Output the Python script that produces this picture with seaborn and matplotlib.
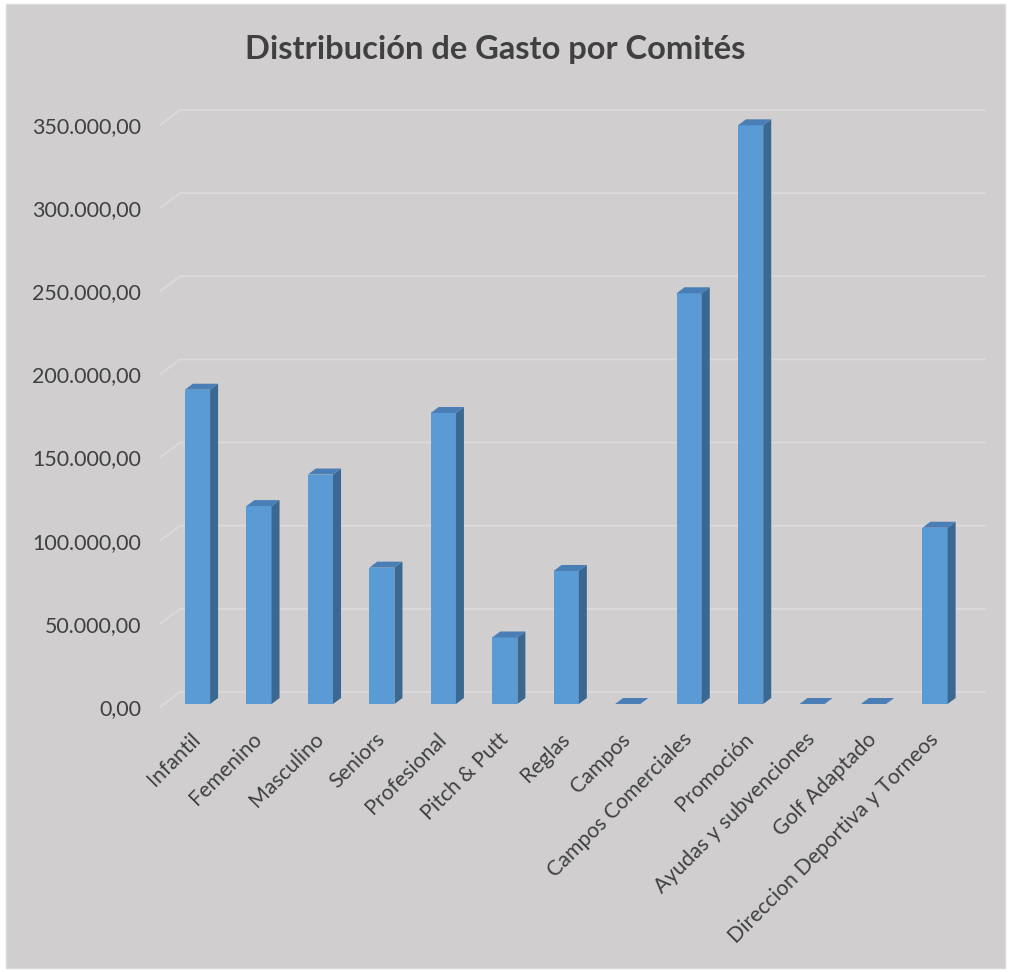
import matplotlib
matplotlib.use("Agg")
import matplotlib.pyplot as plt
import matplotlib.transforms as mtransforms
from matplotlib.patches import Polygon, Rectangle
import seaborn as sns
import pandas as pd

# data
categories = ['Infantil', 'Femenino', 'Masculino', 'Seniors', 'Profesional',
              'Pitch & Putt', 'Reglas', 'Campos', 'Campos Comerciales', 'Promoción',
              'Ayudas y subvenciones', 'Golf Adaptado', 'Direccion Deportiva y Torneos']
gasto = [189000, 119000, 138000, 82000, 175000, 40000, 80000, 0,
         247000, 348000, 0, 0, 106000]
y_ticks = [0, 50000, 100000, 150000, 200000, 250000, 300000, 350000]

BG = '#D0CECE'
GRID = '#DCDADA'
FRONT = '#5B9BD5'
SIDE = '#3A6890'
TOP = '#4A7EB6'
TXT = '#404040'

sns.set_style("white")
plt.rcParams['font.family'] = ['Lato', 'DejaVu Sans']

W, H = 1010, 972
fig = plt.figure(figsize=(W / 100, H / 100), dpi=100)
fig.patch.set_facecolor('white')
fig.patches.append(Rectangle((6 / W, 4 / H), 999 / W, 964 / H, transform=fig.transFigure,
                             facecolor=BG, edgecolor='#DADADA', lw=1, zorder=-5))

# axes placement in pixels
x0, x1 = 160, 985
y_zero = 707          # pixel row (from top) of the 0 tick
px_per_k = 1.6629     # pixels per 1000
ymax = 360000
top_px = y_zero - ymax / 1000 * px_per_k
ax = fig.add_axes([x0 / W, (H - y_zero) / H, (x1 - x0) / W, (y_zero - top_px) / H])
ax.set_facecolor('none')
ax.set_zorder(2)

df = pd.DataFrame({'Comité': categories, 'Gasto': gasto})
sns.barplot(data=df, x='Comité', y='Gasto', color=FRONT, saturation=1, width=0.41,
            edgecolor='none', linewidth=0, ax=ax, zorder=3)

spacing = (x1 - x0) / 13.42
ax.set_xlim(-37.5 / spacing, 12 + (x1 - 935) / spacing)
ax.set_ylim(0, ymax)
for s in ax.spines.values():
    s.set_visible(False)

ax.set_yticks(y_ticks)
ax.set_yticklabels([f"{v:,.2f}".replace(',', 'X').replace('.', ',').replace('X', '.') for v in y_ticks])
ax.tick_params(axis='y', length=0, pad=13.5, labelsize=15.4, labelcolor=TXT)
ax.tick_params(axis='x', length=0, pad=21, labelsize=15.3, labelcolor=TXT)
plt.setp(ax.get_xticklabels(), rotation=45, ha='right', va='center', rotation_mode='anchor')
ax.set_xlabel('')
ax.set_ylabel('')

# back-wall gridlines with a small perspective stub at the left
dx, dy = 20, 15
for v in y_ticks:
    fx, fy = ax.transData.transform((ax.get_xlim()[0], v))
    rx = ax.transAxes.transform((1, 0))[0]
    ax.plot([fx, fx + dx, rx], [fy, fy + dy, fy + dy], color=GRID, lw=1.3,
            transform=mtransforms.IdentityTransform(), clip_on=False, zorder=1)

# bars sit a little behind the front edge of the floor
bar_tr = mtransforms.offset_copy(ax.transData, fig=fig, x=0, y=3, units='dots')

# fake depth on each bar: right side face and top face
ox, oy = 8, 6
for p in list(ax.patches):
    p.set_transform(bar_tr)
    (bx0, by0), (bx1, by1) = bar_tr.transform(
        [(p.get_x(), p.get_y()), (p.get_x() + p.get_width(), p.get_y() + p.get_height())])
    side = Polygon([(bx1, by0), (bx1 + ox, by0 + oy), (bx1 + ox, by1 + oy), (bx1, by1)],
                   closed=True, facecolor=SIDE, edgecolor='none',
                   transform=mtransforms.IdentityTransform(), clip_on=False, zorder=3)
    top = Polygon([(bx0, by1), (bx0 + ox, by1 + oy), (bx1 + ox, by1 + oy), (bx1, by1)],
                  closed=True, facecolor=TOP, edgecolor='none',
                  transform=mtransforms.IdentityTransform(), clip_on=False, zorder=3)
    ax.add_patch(side)
    ax.add_patch(top)

fig.text(495 / W, 1 - 49 / H, 'Distribución de Gasto por Comités', ha='center', va='center',
         fontsize=23.5, fontweight='bold', color=TXT)

fig.savefig('out.png', dpi=100, facecolor=fig.get_facecolor())
